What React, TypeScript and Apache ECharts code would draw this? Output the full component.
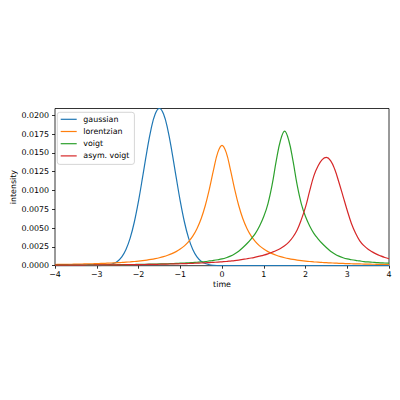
import React, { useEffect, useRef } from "react";
import * as echarts from "echarts";

const times = [
  -4.0, -3.9, -3.8, -3.7, -3.6, -3.5, -3.4, -3.3, -3.2, -3.1,
  -3.0, -2.9, -2.8, -2.7, -2.6, -2.5, -2.4, -2.3, -2.2, -2.1,
  -2.0, -1.9, -1.8, -1.7, -1.6, -1.5, -1.4, -1.3, -1.2, -1.1,
  -1.0, -0.9, -0.8, -0.7, -0.6, -0.5, -0.4, -0.3, -0.2, -0.1,
  0.0, 0.1, 0.2, 0.3, 0.4, 0.5, 0.6, 0.7, 0.8, 0.9,
  1.0, 1.1, 1.2, 1.3, 1.4, 1.5, 1.6, 1.7, 1.8, 1.9,
  2.0, 2.1, 2.2, 2.3, 2.4, 2.5, 2.6, 2.7, 2.8, 2.9,
  3.0, 3.1, 3.2, 3.3, 3.4, 3.5, 3.6, 3.7, 3.8, 3.9, 4.0,
];

const gaussian = [
  0, 0, 0, 0, 0, 0, 0, 0, 0, 0.000002,
  0.000007, 0.00002, 0.000051, 0.000125, 0.000283, 0.000597, 0.00117, 0.00215, 0.00366, 0.00581,
  0.00859, 0.01183, 0.01518, 0.01813, 0.02017, 0.0209, 0.02017, 0.01813, 0.01518, 0.01183,
  0.00859, 0.00581, 0.00366, 0.00215, 0.00117, 0.000597, 0.000283, 0.000125, 0.000051, 0.00002,
  0.000007, 0.000002, 0, 0, 0, 0, 0, 0, 0, 0,
  0, 0, 0, 0, 0, 0, 0, 0, 0, 0,
  0, 0, 0, 0, 0, 0, 0, 0, 0, 0,
  0, 0, 0, 0, 0, 0, 0, 0, 0, 0, 0,
];

const lorentzian = [
  0.000158, 0.000167, 0.000175, 0.000185, 0.000195, 0.000206, 0.000218, 0.000232, 0.000246, 0.000262,
  0.000279, 0.000299, 0.00032, 0.000344, 0.00037, 0.000399, 0.000432, 0.00047, 0.000512, 0.00056,
  0.000615, 0.000679, 0.000753, 0.000839, 0.000941, 0.001062, 0.001208, 0.001384, 0.0016, 0.001869,
  0.002207, 0.002639, 0.0032, 0.003938, 0.004923, 0.006244, 0.008, 0.01024, 0.0128, 0.01506,
  0.016, 0.01506, 0.0128, 0.01024, 0.008, 0.006244, 0.004923, 0.003938, 0.0032, 0.002639,
  0.002207, 0.001869, 0.0016, 0.001384, 0.001208, 0.001062, 0.000941, 0.000839, 0.000753, 0.000679,
  0.000615, 0.00056, 0.000512, 0.00047, 0.000432, 0.000399, 0.00037, 0.000344, 0.00032, 0.000299,
  0.000279, 0.000262, 0.000246, 0.000232, 0.000218, 0.000206, 0.000195, 0.000185, 0.000175, 0.000167, 0.000158,
];

const voigt = [
  0.00007, 0.00007, 0.00008, 0.00008, 0.00008, 0.00009, 0.00009, 0.00009, 0.0001, 0.0001,
  0.0001, 0.00011, 0.00011, 0.00012, 0.00012, 0.00013, 0.00014, 0.00015, 0.00015, 0.00016,
  0.00017, 0.00018, 0.00019, 0.00021, 0.00022, 0.00023, 0.00025, 0.00026, 0.00028, 0.0003,
  0.00033, 0.00036, 0.00038, 0.00042, 0.00046, 0.0005, 0.00055, 0.00063, 0.0007, 0.00079,
  0.0009, 0.00106, 0.00127, 0.00156, 0.00193, 0.00242, 0.00295, 0.00358, 0.0043, 0.00528,
  0.00653, 0.00823, 0.01074, 0.01396, 0.01665, 0.0179, 0.01665, 0.01396, 0.01074, 0.00823,
  0.00653, 0.00528, 0.0043, 0.00358, 0.00295, 0.00242, 0.00193, 0.00156, 0.00127, 0.00106,
  0.0009, 0.00079, 0.0007, 0.00063, 0.00055, 0.0005, 0.00046, 0.00042, 0.00038, 0.00036, 0.00033,
];

const asymVoigt = [
  0.000072, 0.000073, 0.000076, 0.000079, 0.000081, 0.000084, 0.000086, 0.000089, 0.000092, 0.000095,
  0.000098, 0.000101, 0.000105, 0.000109, 0.000114, 0.000118, 0.000124, 0.00013, 0.000137, 0.000144,
  0.000151, 0.000158, 0.000166, 0.000173, 0.000183, 0.000194, 0.000204, 0.000216, 0.00023, 0.000245,
  0.000259, 0.000274, 0.000295, 0.000317, 0.000338, 0.00036, 0.000389, 0.000418, 0.000446, 0.000475,
  0.000518, 0.000562, 0.000619, 0.000677, 0.000749, 0.000835, 0.000922, 0.00102, 0.00114, 0.00127,
  0.00141, 0.00158, 0.00179, 0.00202, 0.0023, 0.00266, 0.00314, 0.00382, 0.00475, 0.00612,
  0.00778, 0.00994, 0.01195, 0.01325, 0.01411, 0.0144, 0.01397, 0.01282, 0.01109, 0.00922,
  0.00734, 0.00562, 0.00432, 0.00331, 0.00266, 0.00219, 0.00184, 0.00154, 0.0013, 0.00109, 0.00092,
];

const seriesNames = ["gaussian", "lorentzian", "voigt", "asym. voigt"];
const seriesValues = [gaussian, lorentzian, voigt, asymVoigt];
const colors = ["#1f77b4", "#ff7f0e", "#2ca02c", "#d62728"];

const FONT = "DejaVu Sans";
const FS = 7.9;

export default function App() {
  const ref = useRef<HTMLDivElement>(null);
  useEffect(() => {
    if (!ref.current) return;
    const chart = echarts.init(ref.current, null, { renderer: "svg" });
    const option: any = {
      animation: false,
      backgroundColor: "#ffffff",
      grid: {
        left: 55,
        top: 108.5,
        width: 334,
        height: 157.2,
        show: true,
        borderColor: "#000000",
        borderWidth: 0.8,
        backgroundColor: "transparent",
        containLabel: false,
        outerBoundsMode: "none",
      },
      xAxis: {
        type: "value",
        min: -4,
        max: 4,
        interval: 1,
        axisLine: { show: false, onZero: false },
        axisTick: { show: true, length: 3, lineStyle: { color: "#000", width: 0.8 } },
        splitLine: { show: false },
        axisLabel: {
          margin: 5,
          color: "#000",
          fontSize: FS,
          fontFamily: FONT,
          formatter: (v: number) => (v < 0 ? "\u2212" + Math.abs(v) : String(v)),
        },
        name: "time",
        nameLocation: "middle",
        nameGap: 15,
        nameMoveOverlap: false,
        nameTextStyle: { color: "#000", fontSize: FS, fontFamily: FONT },
      },
      yAxis: {
        type: "value",
        min: 0,
        max: 0.0209,
        interval: 0.0025,
        axisLine: { show: false, onZero: false },
        axisTick: { show: true, length: 3, lineStyle: { color: "#000", width: 0.8 } },
        splitLine: { show: false },
        axisLabel: {
          margin: 6,
          color: "#000",
          fontSize: FS,
          fontFamily: FONT,
          showMaxLabel: false,
          formatter: (v: number) => (v > 0.02001 ? "" : v.toFixed(4)),
        },
        name: "intensity",
        nameLocation: "middle",
        nameGap: 38,
        nameMoveOverlap: false,
        nameTextStyle: { color: "#000", fontSize: FS, fontFamily: FONT },
      },
      legend: {
        orient: "vertical",
        left: 57.3,
        top: 112.3,
        icon: "rect",
        itemWidth: 16,
        itemHeight: 1.2,
        itemGap: 1.2,
        padding: [1.5, 5, 3, 3.4],
        borderColor: "#cccccc",
        borderWidth: 0.8,
        borderRadius: 2.5,
        backgroundColor: "rgba(255,255,255,0.8)",
        textStyle: {
          color: "#000",
          fontSize: FS,
          fontFamily: FONT,
          lineHeight: 11,
          padding: [0, 0, 0, 1.6],
        },
        data: seriesNames.map((n, i) => ({ name: n, itemStyle: { color: colors[i] } })),
      },
      series: seriesNames.map((n, i) => ({
        name: n,
        type: "line",
        data: times.map((t, j) => [t, seriesValues[i][j]]),
        showSymbol: false,
        symbol: "none",
        smooth: 0.4,
        clip: true,
        color: colors[i],
        lineStyle: { color: colors[i], width: 1.2 },
        itemStyle: { color: colors[i] },
      })),
    };
    chart.setOption(option);
    return () => chart.dispose();
  }, []);
  return (
    <div
      ref={ref}
      style={{ position: "fixed", left: 0, top: 0, width: 400, height: 400, background: "#fff" }}
    />
  );
}
